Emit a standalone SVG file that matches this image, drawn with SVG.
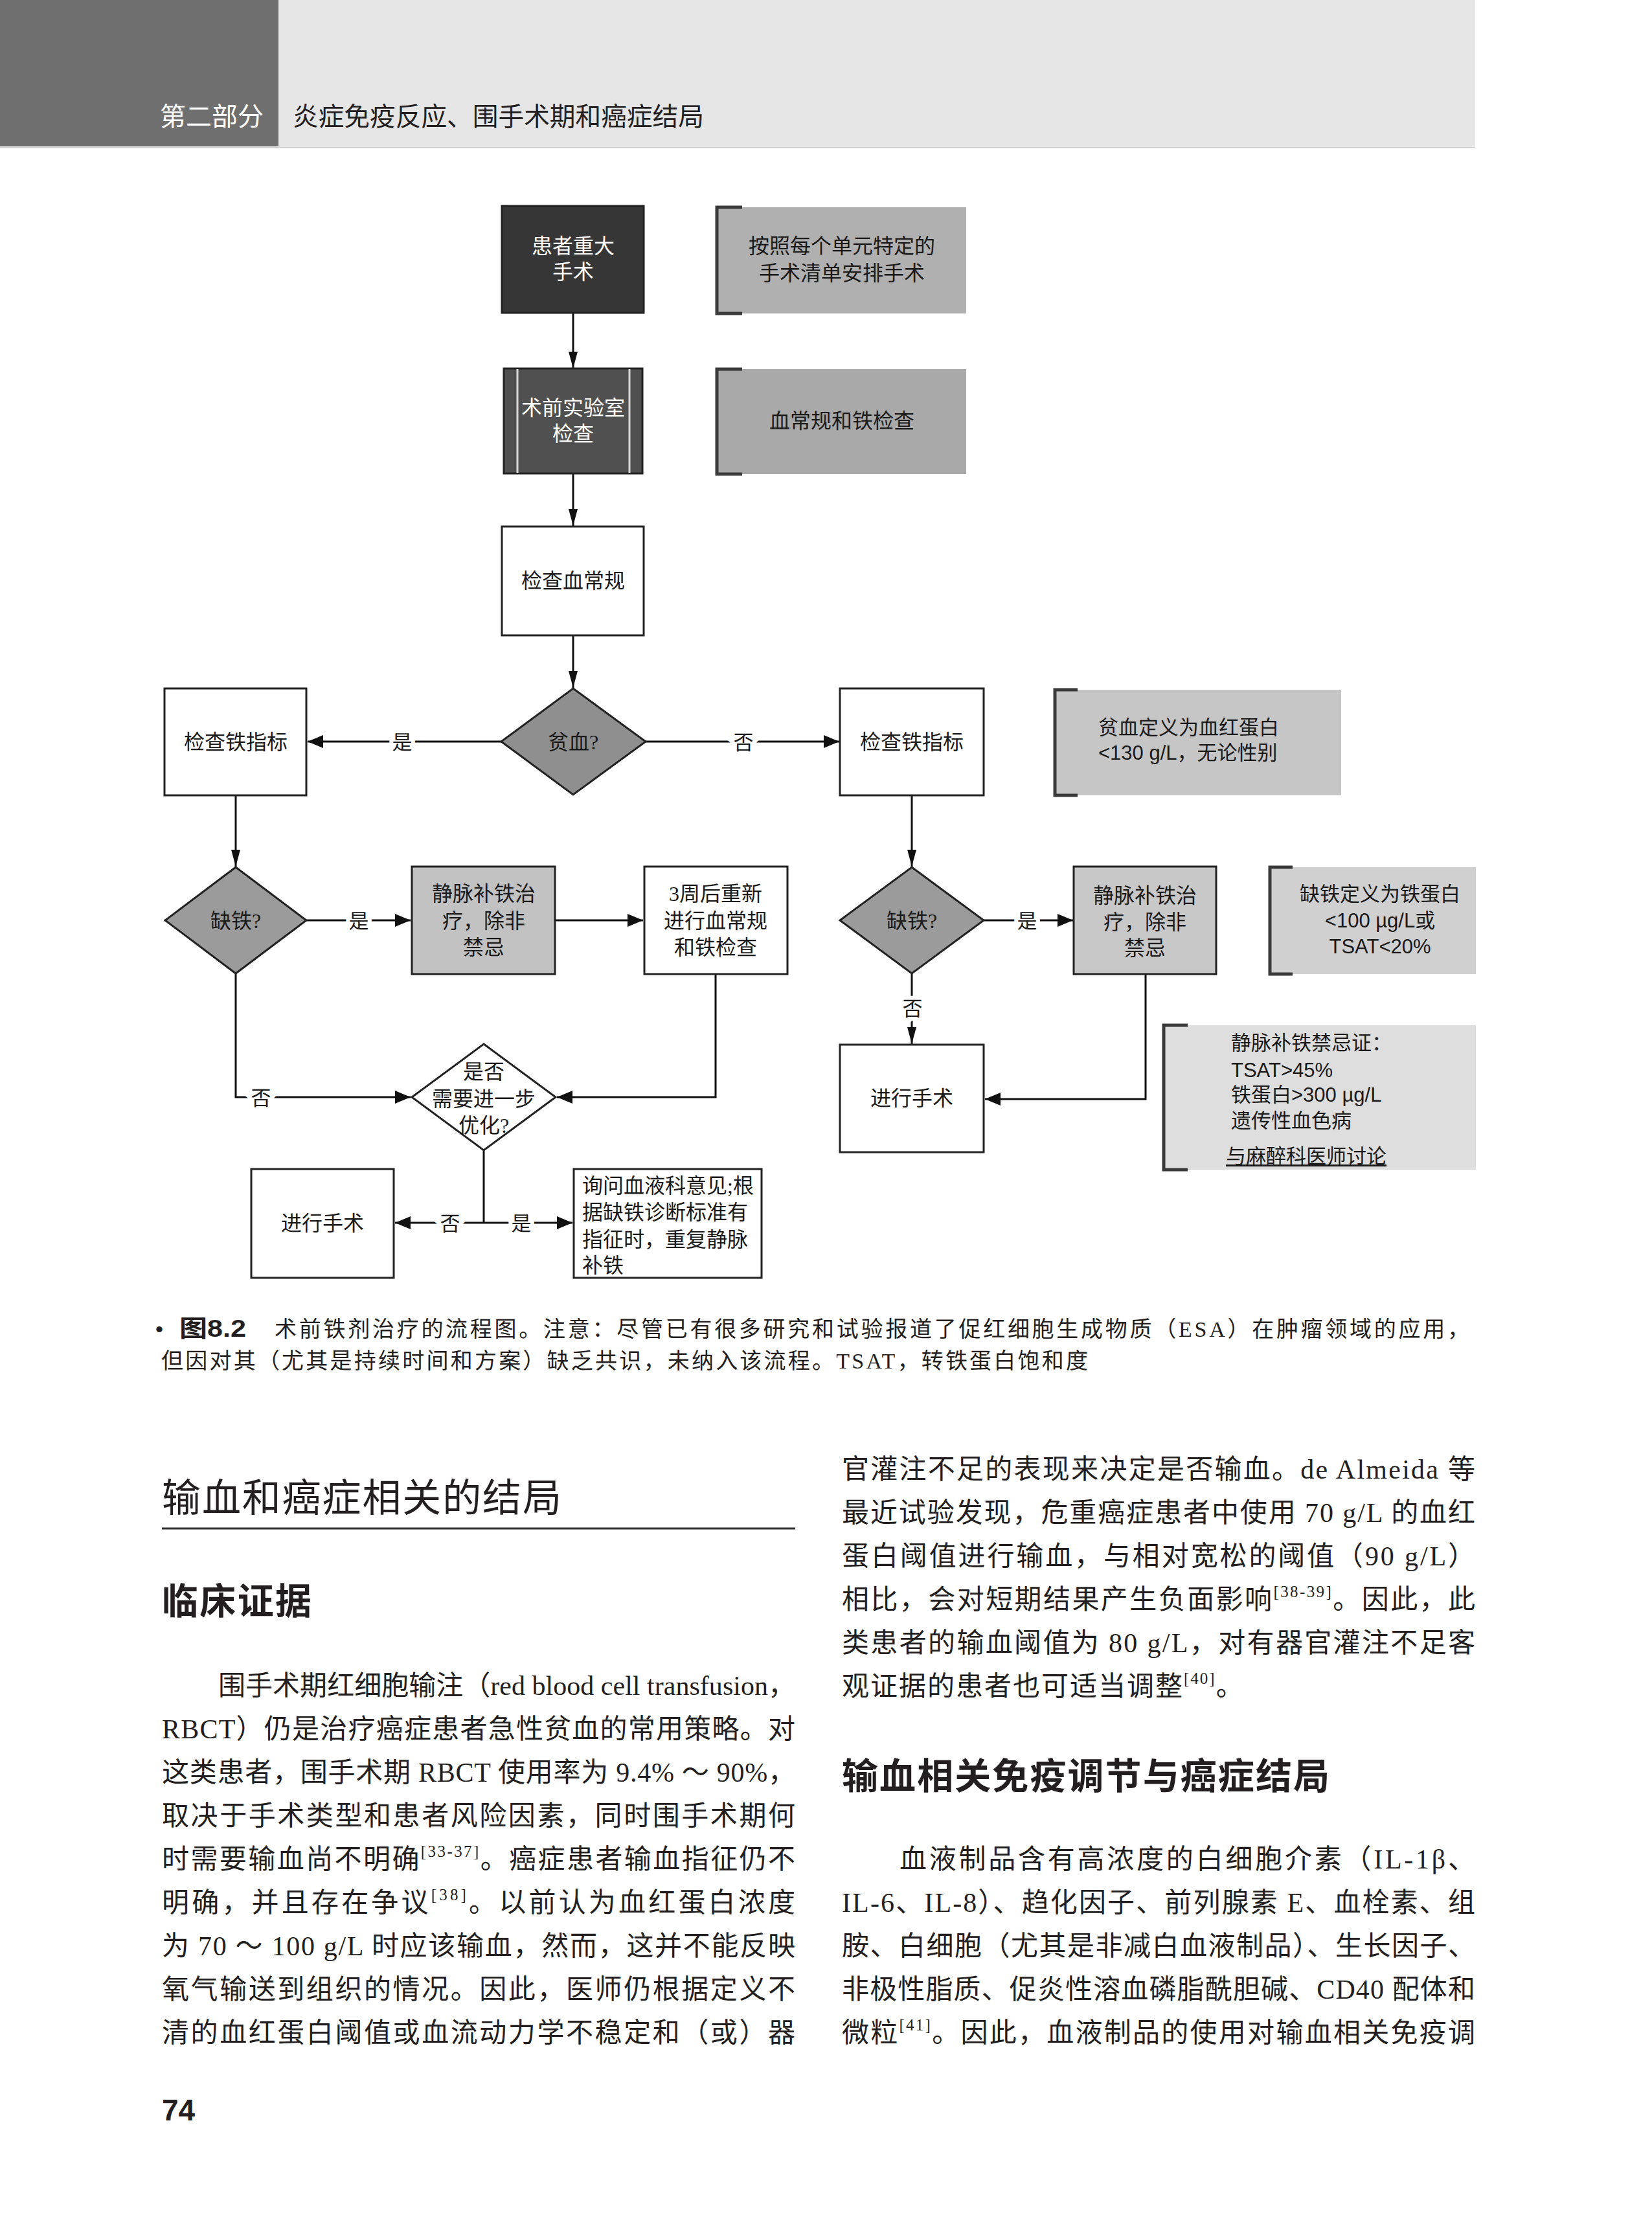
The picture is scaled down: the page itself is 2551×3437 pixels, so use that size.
<svg xmlns="http://www.w3.org/2000/svg" width="2551" height="3437" viewBox="0 0 2551 3437">
<style>
.box{stroke:#222;stroke-width:3}
.t{font-family:"Liberation Serif","Noto Sans CJK SC",serif;font-size:32px;text-anchor:middle;fill:#1a1a1a}
.ts{font-family:"Liberation Serif","Noto Sans CJK SC",serif;font-size:32px;text-anchor:start;fill:#1a1a1a}
.tw{font-family:"Liberation Serif","Noto Sans CJK SC",serif;font-size:32px;text-anchor:middle;fill:#fff}
.nt{font-family:"Liberation Sans","Noto Sans CJK SC",sans-serif;font-size:31px;fill:#1a1a1a}
.ntc{font-family:"Liberation Sans","Noto Sans CJK SC",sans-serif;font-size:31px;fill:#1a1a1a;text-anchor:middle}
.conn{stroke:#111;stroke-width:3;fill:none}
.lbl{font-family:"Noto Sans CJK SC",sans-serif;font-size:31px;text-anchor:middle;fill:#1a1a1a;stroke:#fff;stroke-width:12px;paint-order:stroke}
.br{fill:none;stroke:#3a3a3a;stroke-width:5}
.body{font-family:"Liberation Serif","Noto Sans CJK SC",serif;font-size:42px;fill:#231f20}
.sup{font-size:25px}
.cap{font-family:"Liberation Serif","Noto Sans CJK SC",serif;font-size:34px;fill:#231f20}
</style>
<defs>
<marker id="av" markerWidth="26" markerHeight="14" refX="26" refY="7" orient="auto" markerUnits="userSpaceOnUse"><path d="M0,0 L26,7 L0,14 z" fill="#111"/></marker>
<marker id="ah" markerWidth="24" markerHeight="20" refX="24" refY="10" orient="auto" markerUnits="userSpaceOnUse"><path d="M0,0 L24,10 L0,20 z" fill="#111"/></marker>
</defs>
<rect width="2551" height="3437" fill="#fff"/>

<g id="header">
<rect x="0" y="0" width="430" height="226" fill="#6f6f6f"/>
<rect x="430" y="0" width="1848" height="226" fill="#e6e6e6"/>
<line x1="0" y1="227.5" x2="2278" y2="227.5" stroke="#cfcfcf" stroke-width="2"/>
<text x="247" y="194" font-family="Noto Sans CJK SC, sans-serif" font-size="40" fill="#fff" textLength="160" lengthAdjust="spacingAndGlyphs">第二部分</text>
<text x="452" y="194" font-family="Noto Sans CJK SC, sans-serif" font-size="40" fill="#231f20" textLength="635" lengthAdjust="spacingAndGlyphs">炎症免疫反应、围手术期和癌症结局</text>
</g>

<g id="connectors">
<line class="conn" x1="885" y1="484" x2="885" y2="569" marker-end="url(#av)"/>
<line class="conn" x1="885" y1="732" x2="885" y2="812" marker-end="url(#av)"/>
<line class="conn" x1="885" y1="982" x2="885" y2="1062" marker-end="url(#av)"/>
<line class="conn" x1="774" y1="1145" x2="475" y2="1145" marker-end="url(#ah)"/>
<line class="conn" x1="997" y1="1145" x2="1296" y2="1145" marker-end="url(#ah)"/>
<line class="conn" x1="364" y1="1229" x2="364" y2="1338" marker-end="url(#av)"/>
<line class="conn" x1="473" y1="1421" x2="634" y2="1421" marker-end="url(#ah)"/>
<line class="conn" x1="857" y1="1421" x2="993" y2="1421" marker-end="url(#ah)"/>
<polyline class="conn" points="364,1503 364,1694 634,1694" marker-end="url(#ah)"/>
<polyline class="conn" points="1105,1505 1105,1694 860,1694" marker-end="url(#ah)"/>
<line class="conn" x1="747" y1="1776" x2="747" y2="1888"/>
<line class="conn" x1="747" y1="1888" x2="610" y2="1888" marker-end="url(#ah)"/>
<line class="conn" x1="747" y1="1888" x2="884" y2="1888" marker-end="url(#ah)"/>
<line class="conn" x1="1408" y1="1229" x2="1408" y2="1338" marker-end="url(#av)"/>
<line class="conn" x1="1519" y1="1421" x2="1657" y2="1421" marker-end="url(#ah)"/>
<line class="conn" x1="1408" y1="1503" x2="1408" y2="1612" marker-end="url(#av)"/>
<polyline class="conn" points="1769,1505 1769,1697 1521,1697" marker-end="url(#ah)"/>
<text class="lbl" x="621" y="1157">是</text>
<text class="lbl" x="1148" y="1157">否</text>
<text class="lbl" x="554" y="1433">是</text>
<text class="lbl" x="403" y="1706">否</text>
<text class="lbl" x="695" y="1900">否</text>
<text class="lbl" x="805" y="1900">是</text>
<text class="lbl" x="1586" y="1433">是</text>
<text class="lbl" x="1409" y="1568">否</text>
</g>

<g id="n_major_surgery">
<rect class="box" x="775" y="318" width="219" height="165" fill="#363636"/>
<text class="tw" x="885" y="391">患者重大</text>
<text class="tw" x="885" y="431">手术</text>
</g>
<g id="note_schedule">
<rect x="1107" y="320" width="385" height="164" fill="#b0b0b0"/>
<path class="br" d="M1146,320 H1107 V484 H1146"/>
<text class="t" x="1300" y="391">按照每个单元特定的</text>
<text class="t" x="1300" y="433">手术清单安排手术</text>
</g>
<g id="n_lab">
<rect class="box" x="778" y="569" width="214" height="162" fill="#505050"/>
<line x1="799" y1="570" x2="799" y2="730" stroke="#d8d8d8" stroke-width="3"/>
<line x1="972" y1="570" x2="972" y2="730" stroke="#d8d8d8" stroke-width="3"/>
<text class="tw" x="885" y="641">术前实验室</text>
<text class="tw" x="885" y="681">检查</text>
</g>
<g id="note_cbc_iron">
<rect x="1107" y="570" width="385" height="162" fill="#a9a9a9"/>
<path class="br" d="M1146,570 H1107 V732 H1146"/>
<text class="t" x="1300" y="661">血常规和铁检查</text>
</g>
<g id="n_cbc">
<rect class="box" x="775" y="813" width="219" height="168" fill="#fff"/>
<text class="t" x="885" y="908">检查血常规</text>
</g>
<g id="d_anemia">
<polygon class="box" points="885,1063 997,1145 885,1227 774,1145" fill="#8f8f8f" stroke-width="2.5"/>
<text class="t" x="885" y="1157">贫血?</text>
</g>
<g id="n_iron_left">
<rect class="box" x="254" y="1063" width="219" height="165" fill="#fff"/>
<text class="t" x="364" y="1157">检查铁指标</text>
</g>
<g id="n_iron_right">
<rect class="box" x="1297" y="1063" width="222" height="165" fill="#fff"/>
<text class="t" x="1408" y="1157">检查铁指标</text>
</g>
<g id="note_anemia_def">
<rect x="1629" y="1065" width="442" height="163" fill="#c6c6c6"/>
<path class="br" d="M1664,1065 H1629 V1228 H1664" stroke="#555"/>
<text class="nt" x="1696" y="1134">贫血定义为血红蛋白</text>
<text class="nt" x="1696" y="1173">&lt;130 g/L，无论性别</text>
</g>
<g id="d_iron_left">
<polygon class="box" points="364,1339 473,1421 364,1503 255,1421" fill="#9b9b9b" stroke-width="2.5"/>
<text class="t" x="364" y="1433">缺铁?</text>
</g>
<g id="n_iv_left">
<rect class="box" x="636" y="1338" width="221" height="166" fill="#c2c2c2"/>
<text class="t" x="747" y="1391">静脉补铁治</text>
<text class="t" x="747" y="1433">疗，除非</text>
<text class="t" x="747" y="1474">禁忌</text>
</g>
<g id="n_recheck">
<rect class="box" x="995" y="1338" width="221" height="166" fill="#fff"/>
<text class="t" x="1105" y="1391">3周后重新</text>
<text class="t" x="1105" y="1433">进行血常规</text>
<text class="t" x="1105" y="1474">和铁检查</text>
</g>
<g id="d_iron_right">
<polygon class="box" points="1408,1339 1519,1421 1408,1503 1297,1421" fill="#9b9b9b" stroke-width="2.5"/>
<text class="t" x="1408" y="1433">缺铁?</text>
</g>
<g id="n_iv_right">
<rect class="box" x="1658" y="1338" width="220" height="166" fill="#c8c8c8"/>
<text class="t" x="1768" y="1394">静脉补铁治</text>
<text class="t" x="1768" y="1435">疗，除非</text>
<text class="t" x="1768" y="1475">禁忌</text>
</g>
<g id="note_iron_def">
<rect x="1961" y="1339" width="318" height="165" fill="#d0d0d0"/>
<path class="br" d="M1996,1339 H1961 V1504 H1996" stroke="#555"/>
<text class="ntc" x="2131" y="1391">缺铁定义为铁蛋白</text>
<text class="ntc" x="2131" y="1432">&lt;100 µg/L或</text>
<text class="ntc" x="2131" y="1472">TSAT&lt;20%</text>
</g>
<g id="n_surgery_right">
<rect class="box" x="1297" y="1613" width="222" height="166" fill="#fff"/>
<text class="t" x="1408" y="1707">进行手术</text>
</g>
<g id="note_contra">
<rect x="1797" y="1583" width="482" height="223" fill="#dedede"/>
<path class="br" d="M1834,1583 H1797 V1806 H1834" stroke="#444"/>
<text class="nt" x="1901" y="1621">静脉补铁禁忌证：</text>
<text class="nt" x="1901" y="1663">TSAT&gt;45%</text>
<text class="nt" x="1901" y="1701">铁蛋白&gt;300 µg/L</text>
<text class="nt" x="1901" y="1741">遗传性血色病</text>
<text class="nt" x="1893" y="1796" text-decoration="underline">与麻醉科医师讨论</text>
</g>
<g id="d_optimize">
<polygon class="box" points="747,1612 858,1694 747,1776 636,1694" fill="#fff" stroke-width="2.5"/>
<text class="t" x="747" y="1666">是否</text>
<text class="t" x="747" y="1708">需要进一步</text>
<text class="t" x="747" y="1749">优化?</text>
</g>
<g id="n_surgery_left">
<rect class="box" x="388" y="1805" width="220" height="168" fill="#fff"/>
<text class="t" x="498" y="1900">进行手术</text>
</g>
<g id="n_consult">
<rect class="box" x="886" y="1805" width="290" height="168" fill="#fff"/>
<text class="ts" x="899" y="1842">询问血液科意见;根</text>
<text class="ts" x="899" y="1883">据缺铁诊断标准有</text>
<text class="ts" x="899" y="1925">指征时，重复静脉</text>
<text class="ts" x="899" y="1965">补铁</text>
</g>

<g id="caption">
<text x="240" y="2064" font-family="Liberation Sans, sans-serif" font-size="34" fill="#231f20">•</text>
<text x="277" y="2064" font-family="Liberation Sans, Noto Sans CJK SC, sans-serif" font-size="36" font-weight="bold" fill="#231f20" textLength="103" lengthAdjust="spacingAndGlyphs">图8.2</text>
<text class="cap" x="424" y="2064" textLength="1845" lengthAdjust="spacing">术前铁剂治疗的流程图。注意：尽管已有很多研究和试验报道了促红细胞生成物质（ESA）在肿瘤领域的应用，</text>
<text class="cap" x="249" y="2113" textLength="1431" lengthAdjust="spacing">但因对其（尤其是持续时间和方案）缺乏共识，未纳入该流程。TSAT，转铁蛋白饱和度</text>
</g>

<g id="body-left">
<text x="250" y="2334" font-family="Noto Sans CJK SC, sans-serif" font-size="60" fill="#231f20" textLength="617" lengthAdjust="spacing">输血和癌症相关的结局</text>
<line x1="250" y1="2360" x2="1228" y2="2360" stroke="#333" stroke-width="3"/>
<text x="250" y="2492" font-family="Noto Sans CJK SC, sans-serif" font-size="56" font-weight="bold" fill="#231f20" textLength="231" lengthAdjust="spacing">临床证据</text>
<text class="body" x="337" y="2617" textLength="891" lengthAdjust="spacing">围手术期红细胞输注（red blood cell transfusion，</text>
<text class="body" x="250" y="2684" textLength="978" lengthAdjust="spacing">RBCT）仍是治疗癌症患者急性贫血的常用策略。对</text>
<text class="body" x="250" y="2751" textLength="978" lengthAdjust="spacing">这类患者，围手术期 RBCT 使用率为 9.4% ～ 90%，</text>
<text class="body" x="250" y="2818" textLength="978" lengthAdjust="spacing">取决于手术类型和患者风险因素，同时围手术期何</text>
<text class="body" x="250" y="2885" textLength="978" lengthAdjust="spacing">时需要输血尚不明确<tspan class="sup" dy="-18">[33-37]</tspan><tspan dy="18">。癌症患者输血指征仍不</tspan></text>
<text class="body" x="250" y="2952" textLength="978" lengthAdjust="spacing">明确，并且存在争议<tspan class="sup" dy="-18">[38]</tspan><tspan dy="18">。以前认为血红蛋白浓度</tspan></text>
<text class="body" x="250" y="3019" textLength="978" lengthAdjust="spacing">为 70 ～ 100 g/L 时应该输血，然而，这并不能反映</text>
<text class="body" x="250" y="3086" textLength="978" lengthAdjust="spacing">氧气输送到组织的情况。因此，医师仍根据定义不</text>
<text class="body" x="250" y="3153" textLength="978" lengthAdjust="spacing">清的血红蛋白阈值或血流动力学不稳定和（或）器</text>
<text x="250" y="3274" font-family="Liberation Sans, sans-serif" font-size="46" font-weight="bold" fill="#231f20">74</text>
</g>

<g id="body-right">
<text class="body" x="1300" y="2283" textLength="978" lengthAdjust="spacing">官灌注不足的表现来决定是否输血。de Almeida 等</text>
<text class="body" x="1300" y="2350" textLength="978" lengthAdjust="spacing">最近试验发现，危重癌症患者中使用 70 g/L 的血红</text>
<text class="body" x="1300" y="2417" textLength="978" lengthAdjust="spacing">蛋白阈值进行输血，与相对宽松的阈值（90 g/L）</text>
<text class="body" x="1300" y="2484" textLength="978" lengthAdjust="spacing">相比，会对短期结果产生负面影响<tspan class="sup" dy="-18">[38-39]</tspan><tspan dy="18">。因此，此</tspan></text>
<text class="body" x="1300" y="2551" textLength="978" lengthAdjust="spacing">类患者的输血阈值为 80 g/L，对有器官灌注不足客</text>
<text class="body" x="1300" y="2618" letter-spacing="2">观证据的患者也可适当调整<tspan class="sup" dy="-18">[40]</tspan><tspan dy="18">。</tspan></text>
<text x="1300" y="2762" font-family="Noto Sans CJK SC, sans-serif" font-size="56" font-weight="bold" fill="#231f20" textLength="753" lengthAdjust="spacing">输血相关免疫调节与癌症结局</text>
<text class="body" x="1389" y="2885" textLength="889" lengthAdjust="spacing">血液制品含有高浓度的白细胞介素（IL-1β、</text>
<text class="body" x="1300" y="2952" textLength="978" lengthAdjust="spacing">IL-6、IL-8）、趋化因子、前列腺素 E、血栓素、组</text>
<text class="body" x="1300" y="3019" textLength="978" lengthAdjust="spacing">胺、白细胞（尤其是非减白血液制品）、生长因子、</text>
<text class="body" x="1300" y="3086" textLength="978" lengthAdjust="spacing">非极性脂质、促炎性溶血磷脂酰胆碱、CD40 配体和</text>
<text class="body" x="1300" y="3153" textLength="978" lengthAdjust="spacing">微粒<tspan class="sup" dy="-18">[41]</tspan><tspan dy="18">。因此，血液制品的使用对输血相关免疫调</tspan></text>
</g>
</svg>
